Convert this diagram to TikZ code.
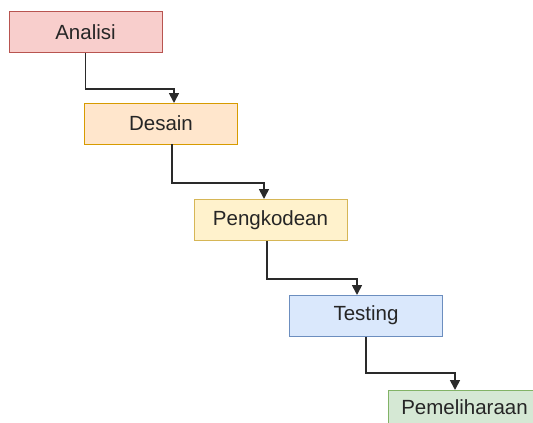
\documentclass[tikz,border=0pt]{standalone}
\usepackage{fontspec}
\setmainfont{Liberation Sans}
\usetikzlibrary{arrows.meta}
\definecolor{redF}{HTML}{F8CECC}\definecolor{redS}{HTML}{B85450}
\definecolor{orF}{HTML}{FFE6CC}\definecolor{orS}{HTML}{D79B00}
\definecolor{yeF}{HTML}{FFF2CC}\definecolor{yeS}{HTML}{D6B656}
\definecolor{blF}{HTML}{DAE8FC}\definecolor{blS}{HTML}{6C8EBF}
\definecolor{grF}{HTML}{D5E8D4}\definecolor{grS}{HTML}{82B366}
\definecolor{lineC}{HTML}{2A2A2A}
\tikzset{
  phase/.style={draw, line width=1pt, minimum width=153pt, minimum height=41pt, inner sep=0pt,
    font=\fontsize{20.5}{22}\selectfont, text=black!85},
  flow/.style={draw=lineC, line width=1.7pt, -{Triangle[length=10pt,width=10pt]}}
}
\begin{document}
\begin{tikzpicture}[x=1pt,y=-1pt]
\useasboundingbox (0,0) rectangle (533,423);
\node[phase, fill=redF, draw=redS] (a) at (85.5,32) {Analisi};
\node[phase, fill=orF, draw=orS] (d) at (161,123.5) {Desain};
\node[phase, fill=yeF, draw=yeS] (p) at (270.5,220) {Pengkodean};
\node[phase, fill=blF, draw=blS] (t) at (366,315.5) {Testing};
\node[phase, fill=grF, draw=grS] (m) at (464.5,410.5) {\raisebox{7pt}{Pemeliharaan}};
\draw[flow] (a.south) |- (174,89) -- (174,103);
\draw[flow] (172,144) -- (172,183) -| (264,199);
\draw[flow] (p.south -| 267,0) -- (267,279) -| (357,295);
\draw[flow] (t.south) -- (366,373) -| (455,390);
\end{tikzpicture}
\end{document}
